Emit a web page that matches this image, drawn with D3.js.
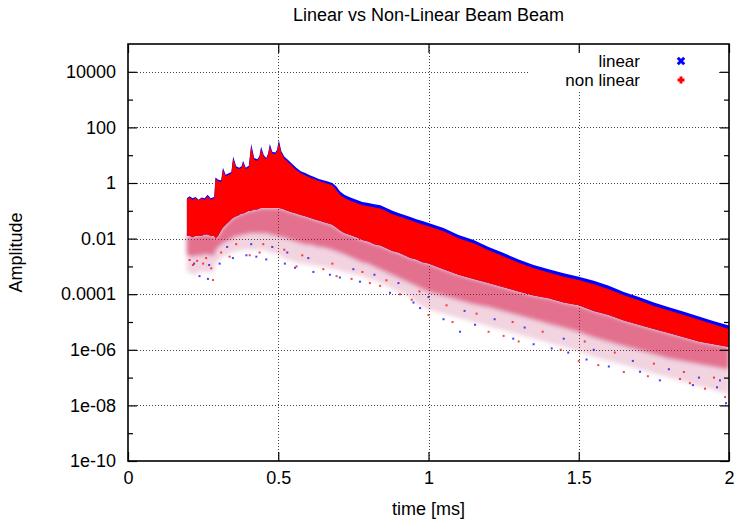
<!DOCTYPE html>
<html><head><meta charset="utf-8">
<script src="https://cdn.jsdelivr.net/npm/d3@7"></script>
<style>
body{margin:0;background:#fff}
svg{display:block}
text{font-family:"Liberation Sans",Arial,Helvetica,sans-serif}
</style>
</head><body>
<svg id="c" width="738" height="519"></svg>
<script>
// ---- data (amplitudes given as log10 values) ----
const times = [0.196,0.205,0.215,0.225,0.235,0.245,0.255,0.265,0.275,0.287,
  0.291,0.300,0.310,0.316,0.325,0.335,0.344,0.350,0.360,0.370,
  0.378,0.383,0.392,0.402,0.410,0.420,0.430,0.437,0.443,0.452,
  0.460,0.466,0.472,0.480,0.490,0.496,0.502,0.510,0.520,0.530,
  0.545,0.560,0.575,0.590,0.605,0.620,0.635,0.650,0.665,0.680,
  0.693,0.705,0.720,0.740,0.760,0.780,0.800,0.820,0.840,0.860,
  0.880,0.900,0.920,0.940,0.960,0.980,1.000,1.050,1.100,1.150,
  1.200,1.250,1.300,1.350,1.400,1.450,1.500,1.550,1.600,1.650,
  1.700,1.750,1.800,1.850,1.900,1.950,2.000];
// upper envelope of the "linear" series
const linearTop = [-0.55,-0.48,-0.55,-0.5,-0.6,-0.52,-0.55,-0.42,-0.55,-0.5,
  0.2,0.12,0.1,0.55,0.3,0.35,0.4,0.95,0.6,0.55,
  0.6,0.8,0.55,0.62,1.4,0.9,0.85,0.95,1.3,1.0,
  0.9,1.05,1.4,1.12,1.1,1.2,1.55,1.15,0.95,0.85,
  0.7,0.55,0.42,0.36,0.28,0.22,0.14,0.1,0.05,0.0,
  -0.12,-0.3,-0.42,-0.52,-0.6,-0.68,-0.72,-0.76,-0.8,-0.9,
  -1.0,-1.08,-1.15,-1.22,-1.3,-1.37,-1.44,-1.62,-1.87,-2.05,
  -2.3,-2.52,-2.75,-2.95,-3.1,-3.25,-3.37,-3.52,-3.7,-3.92,
  -4.1,-4.3,-4.47,-4.63,-4.8,-4.97,-5.13];
// upper envelope of the "non linear" series
const nonLinearTop = [-0.58,-0.52,-0.6,-0.55,-0.62,-0.56,-0.6,-0.48,-0.6,-0.55,
  0.15,0.06,0.04,0.48,0.24,0.3,0.34,0.88,0.54,0.5,
  0.55,0.74,0.5,0.56,1.32,0.84,0.8,0.9,1.22,0.94,
  0.85,1.0,1.32,1.06,1.04,1.14,1.45,1.08,0.88,0.78,
  0.62,0.47,0.35,0.28,0.2,0.14,0.07,0.02,-0.03,-0.08,
  -0.24,-0.42,-0.54,-0.64,-0.72,-0.8,-0.84,-0.88,-0.92,-1.02,
  -1.12,-1.2,-1.27,-1.34,-1.42,-1.49,-1.56,-1.74,-1.99,-2.17,
  -2.42,-2.64,-2.87,-3.07,-3.22,-3.37,-3.49,-3.64,-3.82,-4.04,
  -4.22,-4.42,-4.59,-4.75,-4.92,-5.09,-5.25];
// lower edge of the dense core (both series)
const denseLow = [-1.9,-1.9,-1.95,-1.9,-1.9,-1.9,-1.85,-1.85,-1.9,-1.9,
  -2.0,-1.9,-1.7,-1.6,-1.5,-1.4,-1.3,-1.25,-1.2,-1.15,
  -1.1,-1.1,-1.05,-1.0,-1.0,-0.95,-0.95,-0.92,-0.9,-0.9,
  -0.9,-0.9,-0.9,-0.9,-0.9,-0.9,-0.9,-0.92,-0.95,-1.0,
  -1.05,-1.1,-1.15,-1.2,-1.25,-1.3,-1.35,-1.4,-1.45,-1.5,
  -1.6,-1.7,-1.8,-1.87,-1.95,-2.05,-2.1,-2.2,-2.25,-2.35,
  -2.45,-2.5,-2.6,-2.7,-2.75,-2.85,-2.9,-3.1,-3.3,-3.45,
  -3.6,-3.75,-3.9,-4.05,-4.15,-4.3,-4.4,-4.6,-4.75,-4.95,
  -5.1,-5.25,-5.4,-5.55,-5.7,-5.8,-5.9];
// lower edge of the medium-density fringe
const midLow = [-2.6,-2.6,-2.65,-2.6,-2.6,-2.6,-2.55,-2.55,-2.6,-2.6,
  -2.4,-2.3,-2.2,-2.15,-2.1,-2.05,-2.0,-1.95,-1.9,-1.9,
  -1.85,-1.85,-1.85,-1.8,-1.8,-1.8,-1.8,-1.8,-1.8,-1.8,
  -1.8,-1.8,-1.85,-1.85,-1.9,-1.9,-1.9,-1.95,-1.95,-2.0,
  -2.05,-2.1,-2.15,-2.2,-2.2,-2.25,-2.3,-2.3,-2.35,-2.4,
  -2.45,-2.5,-2.55,-2.65,-2.75,-2.85,-2.9,-3.0,-3.1,-3.2,
  -3.3,-3.4,-3.5,-3.6,-3.7,-3.8,-3.9,-4.05,-4.2,-4.35,
  -4.45,-4.6,-4.75,-4.9,-5.05,-5.2,-5.35,-5.55,-5.7,-5.85,
  -6.0,-6.15,-6.3,-6.4,-6.5,-6.6,-6.7];
// lower edge of the sparse fringe
const sparseLow = [-3.2,-3.2,-3.3,-3.3,-3.2,-3.2,-3.2,-3.2,-3.2,-3.2,
  -2.9,-2.8,-2.7,-2.65,-2.6,-2.55,-2.5,-2.5,-2.45,-2.45,
  -2.4,-2.4,-2.4,-2.4,-2.4,-2.4,-2.4,-2.4,-2.4,-2.4,
  -2.45,-2.45,-2.5,-2.5,-2.55,-2.55,-2.6,-2.65,-2.7,-2.75,
  -2.8,-2.85,-2.9,-2.9,-2.95,-2.95,-3.0,-3.0,-3.05,-3.1,
  -3.1,-3.15,-3.2,-3.25,-3.3,-3.35,-3.45,-3.5,-3.6,-3.7,
  -3.8,-3.9,-4.0,-4.1,-4.3,-4.45,-4.55,-4.7,-4.85,-5.0,
  -5.15,-5.3,-5.45,-5.6,-5.75,-5.9,-6.05,-6.25,-6.4,-6.55,
  -6.7,-6.85,-7.0,-7.15,-7.3,-7.45,-7.6];
// isolated points [time, log10 amplitude]
const linearOutliers = [[0.238,-3.35],[0.266,-3.45],[0.305,-2.9],[0.349,-2.7],[0.394,-2.6],
  [0.427,-2.65],[0.46,-2.75],[0.522,-2.9],[0.556,-3.05],[0.617,-3.2],[0.672,-3.3],
  [0.705,-3.4],[0.772,-3.55],[0.872,-3.95],[0.95,-4.3],[0.972,-4.5],[1.05,-4.9],
  [1.105,-5.35],[1.155,-5.1],[1.282,-5.6],[1.35,-5.8],[1.41,-5.95],[1.465,-6.1],
  [1.526,-6.35],[1.6,-6.6],[1.704,-6.79],[1.77,-7.1],[1.88,-7.27],[1.96,-7.35],[1.99,-7.92],
  [0.33,-2.3],[0.41,-2.2],[0.48,-2.3],[0.6,-2.7],[0.75,-3.1],[0.82,-3.3],[0.9,-3.6],
  [1.0,-4.1],[1.12,-4.6],[1.22,-4.9],[1.32,-5.2],[1.45,-5.6],[1.55,-6.0],[1.68,-6.4],
  [1.8,-6.7],[1.9,-7.0],[1.97,-7.1],[0.22,-2.9],[0.27,-2.95],[0.53,-2.5]];
const nonLinearOutliers = [[0.205,-2.77],[0.216,-2.95],[0.25,-2.9],[0.277,-3.07],[0.283,-3.49],
  [0.338,-2.65],[0.405,-2.6],[0.438,-2.5],[0.561,-3.0],[0.65,-3.1],[0.694,-3.35],
  [0.744,-3.45],[0.805,-3.6],[0.839,-3.7],[0.905,-4.0],[0.944,-4.2],[1.0,-4.75],
  [1.08,-5.0],[1.2,-5.35],[1.25,-5.5],[1.3,-5.7],[1.44,-6.0],[1.5,-6.4],[1.565,-6.55],
  [1.65,-6.8],[1.73,-6.95],[1.837,-7.05],[1.87,-7.2],[1.92,-7.4],[1.987,-7.7],
  [0.36,-2.2],[0.45,-2.2],[0.52,-2.4],[0.58,-2.6],[0.68,-2.9],[0.78,-3.2],[0.86,-3.5],
  [0.97,-3.9],[1.06,-4.4],[1.16,-4.7],[1.28,-5.0],[1.38,-5.35],[1.52,-5.7],[1.62,-6.1],
  [1.75,-6.5],[1.85,-6.8],[1.95,-7.0],[0.23,-2.8],[0.26,-2.7],[0.31,-2.5]];

const seriesNames = ["linear","non linear"];
const yTickValues = [1e-10,1e-8,1e-6,1e-4,1e-2,1,1e2,1e4];
const yTickLabels = ["1e-10","1e-08","1e-06","0.0001","0.01","1","100","10000"];
const yMinorTicks = [1e-9,1e-7,1e-5,1e-3,1e-1,1e1,1e3];
const xTickValues = [0,0.5,1,1.5,2];
const xTickLabels = ["0","0.5","1","1.5","2"];
const title = "Linear vs Non-Linear Beam Beam";
const xLabel = "time [ms]";
const yLabel = "Amplitude";

// ---- drawing ----
const X0 = 128, X1 = 729, Y0 = 44, Y1 = 461;
const FS = 18, LFS = 17;
const svg = d3.select("#c");
const x = d3.scaleLinear().domain([0, 2]).range([X0, X1]);
const y = d3.scaleLog().domain([1e-10, 1e5]).range([Y1, Y0]);
const amp = e => Math.pow(10, e);

const defs = svg.append("defs");
defs.append("clipPath").attr("id", "plotclip").append("rect")
  .attr("x", X0).attr("y", Y0).attr("width", X1 - X0).attr("height", Y1 - Y0);
defs.append("filter").attr("id", "soft")
  .attr("filterUnits", "userSpaceOnUse")
  .attr("x", 0).attr("y", 0).attr("width", 738).attr("height", 519)
  .append("feGaussianBlur").attr("stdDeviation", 2);

// grid
const grid = svg.append("g").attr("stroke", "#444").attr("stroke-width", 1)
  .attr("stroke-dasharray", "1,2");
grid.selectAll("line.h").data(yTickValues.filter(v => v > 1e-10)).join("line")
  .attr("class", "h")
  .attr("x1", X0).attr("x2", X1)
  .attr("y1", d => Math.round(y(d)) + 0.5).attr("y2", d => Math.round(y(d)) + 0.5);
grid.selectAll("line.v").data(xTickValues.filter(v => v > 0 && v < 2)).join("line")
  .attr("class", "v")
  .attr("y1", Y0).attr("y2", Y1)
  .attr("x1", d => Math.round(x(d)) + 0.5).attr("x2", d => Math.round(x(d)) + 0.5);

// legend background hides the grid below the key
svg.append("rect").attr("x", 529).attr("y", 52).attr("width", 190).attr("height", 40)
  .attr("fill", "#fff");

const rows = times.map((t, i) => ({
  t, lt: linearTop[i], nt: nonLinearTop[i], d: denseLow[i], m: midLow[i], s: sparseLow[i]
}));
const band = (top, bot) => d3.area()
  .x(r => x(r.t)).y1(r => y(amp(top(r)))).y0(r => y(amp(bot(r))));

const plot = svg.append("g").attr("clip-path", "url(#plotclip)");
const BLUE = "#0000ff", RED = "#ff0000";

// linear series
plot.append("path").datum(rows).attr("d", band(r => r.m, r => r.s))
  .attr("fill", BLUE).attr("fill-opacity", 0.06).attr("filter", "url(#soft)");
plot.append("path").datum(rows).attr("d", band(r => r.d, r => r.m))
  .attr("fill", BLUE).attr("fill-opacity", 0.2).attr("filter", "url(#soft)");
plot.append("path").datum(rows).attr("d", band(r => r.lt, r => r.d))
  .attr("fill", BLUE);
plot.append("g").selectAll("rect").data(linearOutliers).join("rect")
  .attr("x", d => x(d[0]) - 1).attr("y", d => y(amp(d[1])) - 1)
  .attr("width", 2).attr("height", 2).attr("fill", BLUE).attr("fill-opacity", 0.75);

// non linear series
plot.append("path").datum(rows).attr("d", band(r => r.m, r => r.s))
  .attr("fill", RED).attr("fill-opacity", 0.12).attr("filter", "url(#soft)");
plot.append("path").datum(rows).attr("d", band(r => r.d, r => r.m))
  .attr("fill", RED).attr("fill-opacity", 0.45).attr("filter", "url(#soft)");
plot.append("path").datum(rows).attr("d", band(r => r.nt, r => r.d))
  .attr("fill", RED);
plot.append("g").selectAll("rect").data(nonLinearOutliers).join("rect")
  .attr("x", d => x(d[0]) - 1).attr("y", d => y(amp(d[1])) - 1)
  .attr("width", 2).attr("height", 2).attr("fill", RED).attr("fill-opacity", 0.75);

// axes (ticks point inward, mirrored on top/right)
function styleAxis(g) {
  g.select(".domain").remove();
  g.selectAll(".tick line").attr("stroke", "#000").attr("stroke-width", 1.2);
  g.selectAll("text").attr("font-size", FS).attr("fill", "#000")
    .attr("font-family", '"Liberation Sans", Arial, sans-serif');
}
svg.append("g").attr("transform", `translate(${X0},0)`)
  .call(d3.axisLeft(y).tickValues(yTickValues).tickFormat((d, i) => yTickLabels[i])
    .tickSize(-9).tickPadding(12)).call(styleAxis);
svg.append("g").attr("transform", `translate(${X0},0)`)
  .call(d3.axisLeft(y).tickValues(yMinorTicks).tickFormat("").tickSize(-5)).call(styleAxis);
svg.append("g").attr("transform", `translate(${X1},0)`)
  .call(d3.axisRight(y).tickValues(yTickValues).tickFormat("").tickSize(-9)).call(styleAxis);
svg.append("g").attr("transform", `translate(${X1},0)`)
  .call(d3.axisRight(y).tickValues(yMinorTicks).tickFormat("").tickSize(-5)).call(styleAxis);
svg.append("g").attr("transform", `translate(0,${Y1})`)
  .call(d3.axisBottom(x).tickValues(xTickValues).tickFormat((d, i) => xTickLabels[i])
    .tickSize(-9).tickPadding(10)).call(styleAxis);
svg.append("g").attr("transform", `translate(0,${Y0})`)
  .call(d3.axisTop(x).tickValues(xTickValues).tickFormat("").tickSize(-9)).call(styleAxis);

// frame
svg.append("rect").attr("x", X0).attr("y", Y0).attr("width", X1 - X0).attr("height", Y1 - Y0)
  .attr("fill", "none").attr("stroke", "#000").attr("stroke-width", 1.6);

// titles
svg.append("text").attr("x", (X0 + X1) / 2).attr("y", 21).attr("text-anchor", "middle")
  .attr("font-size", FS).text(title);
svg.append("text").attr("x", (X0 + X1) / 2).attr("y", 515).attr("text-anchor", "middle")
  .attr("font-size", FS).text(xLabel);
svg.append("text").attr("transform", `translate(22,${(Y0 + Y1) / 2}) rotate(-90)`)
  .attr("text-anchor", "middle").attr("font-size", FS).text(yLabel);

// legend
const legend = svg.append("g");
const legendRows = [
  {name: seriesNames[0], color: BLUE, shape: "M-3.2,-3.2L3.2,3.2M-3.2,3.2L3.2,-3.2", yy: 61},
  {name: seriesNames[1], color: RED, shape: "M-3.5,0L3.5,0M0,-3.5L0,3.5", yy: 80}
];
legendRows.forEach(r => {
  legend.append("text").attr("x", 640).attr("y", r.yy).attr("dy", "0.35em")
    .attr("text-anchor", "end").attr("font-size", LFS).text(r.name);
  legend.append("path").attr("d", r.shape).attr("transform", `translate(681,${r.yy})`)
    .attr("stroke", r.color).attr("stroke-width", 3).attr("fill", "none");
});
</script>
</body></html>
